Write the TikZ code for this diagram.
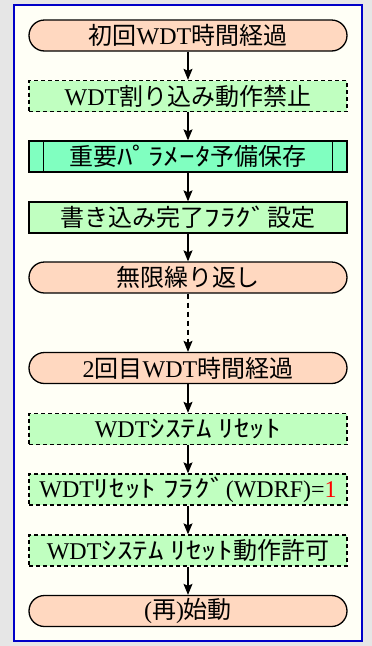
\documentclass[tikz,border=0pt]{standalone}
\usepackage{fontspec}
\setmainfont{Liberation Serif}
\newfontfamily\jp{Noto Sans CJK JP}
\newfontfamily\hw[FakeStretch=1.3]{Noto Sans CJK JP}
\usetikzlibrary{arrows.meta}
\definecolor{bgout}{HTML}{E6E6E6}
\definecolor{panel}{HTML}{FFFFF6}
\definecolor{panelborder}{HTML}{0000C8}
\definecolor{peach}{HTML}{FFD8C0}
\definecolor{lgreen}{HTML}{C0FFC0}
\definecolor{aqua}{HTML}{80FFC0}
\newcommand{\boxfont}{\fontsize{24pt}{26pt}\selectfont}
\tikzset{
  base/.style={minimum width=318pt, minimum height=31pt, inner sep=0pt, line width=1.3pt,
    font=\boxfont},
  term/.style={base, draw, fill=peach, rounded corners=15.5pt},
  dbox/.style={base, draw, dashed, dash pattern=on 4pt off 3pt, fill=lgreen},
  sbox/.style={base, draw, fill=lgreen},
  pbox/.style={base, draw, fill=aqua},
  flow/.style={line width=1.2pt, -{Stealth[length=11pt,width=9pt,inset=2pt]}},
}
\begin{document}
\begin{tikzpicture}[x=1pt,y=-1pt]
\fill[bgout] (0,0) rectangle (372,646);
\useasboundingbox (0,0) rectangle (372,646);
\draw[panelborder, line width=2pt, fill=panel] (14,5) rectangle (362,641);
\node[term] (n1) at (188,35.5) {{\jp 初回}WDT{\jp 時間経過}};
\node[dbox] (n2) at (188,96) {WDT{\jp 割り込み動作禁止}};
\node[pbox] (n3) at (188,156.5) {{\jp 重要}{\hw ﾊﾟﾗﾒｰﾀ}{\jp 予備保存}};
\draw[line width=1.3pt] ([xshift=15pt]n3.north west) -- ([xshift=15pt]n3.south west);
\draw[line width=1.3pt] ([xshift=-15pt]n3.north east) -- ([xshift=-15pt]n3.south east);
\node[sbox] (n4) at (188,217.5) {{\jp 書き込み完了}{\hw ﾌﾗｸﾞ}{\jp 設定}};
\node[term] (n5) at (188,277.5) {{\jp 無限繰り返し}};
\node[term] (n6) at (188,368) {2{\jp 回目}WDT{\jp 時間経過}};
\node[dbox] (n7) at (188,429) {WDT{\hw ｼｽﾃﾑ ﾘｾｯﾄ}};
\node[dbox] (n8) at (188,489.5) {WDT{\hw ﾘｾｯﾄ ﾌﾗｸﾞ}(WDRF)=\textcolor{red}{1}};
\node[dbox] (n9) at (188,550.5) {WDT{\hw ｼｽﾃﾑ ﾘｾｯﾄ}{\jp 動作許可}};
\node[term] (n10) at (188,611) {({\jp 再}){\jp 始動}};
\draw[flow] (n1) -- (n2);
\draw[flow] (n2) -- (n3);
\draw[flow] (n3) -- (n4);
\draw[flow] (n4) -- (n5);
\draw[flow, dashed, dash pattern=on 5pt off 4pt] (n5) -- (n6);
\draw[flow] (n6) -- (n7);
\draw[flow] (n7) -- (n8);
\draw[flow] (n8) -- (n9);
\draw[flow] (n9) -- (n10);
\end{tikzpicture}
\end{document}
